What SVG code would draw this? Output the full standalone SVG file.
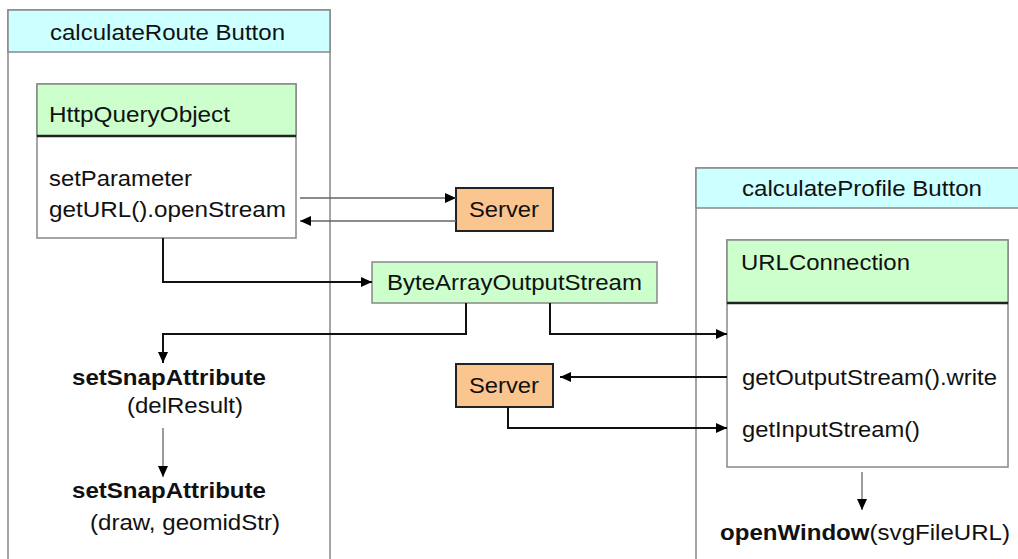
<svg xmlns="http://www.w3.org/2000/svg" width="1018" height="559" viewBox="0 0 1018 559">
<defs>
<marker id="ah" markerUnits="userSpaceOnUse" markerWidth="11" markerHeight="10" refX="11" refY="5" orient="auto">
<path d="M0,0 L11,5 L0,10 z" fill="#000"/>
</marker>
<style>
text{font-family:"Liberation Sans",Arial,sans-serif;font-size:22px;fill:#111}
.b{font-weight:bold}
.cont{fill:#fff;stroke:#888;stroke-width:1.5}
.hdr{fill:#ccffff;stroke:#888;stroke-width:1.5}
.cls{fill:#fff;stroke:#888;stroke-width:1.5}
.green{fill:#ccffcc;stroke:#888;stroke-width:1.5}
.div{stroke:#222;stroke-width:2.5}
.srv{fill:#fbc590;stroke:#222;stroke-width:2}
.c{fill:none;stroke:#111;stroke-width:2}
.g{fill:none;stroke:#666;stroke-width:1.3}
</style>
</defs>
<rect width="1018" height="559" fill="#fff"/>

<g id="calculateRoute">
<rect class="cont" x="8" y="10" width="322" height="560"/>
<rect class="hdr" x="8" y="10" width="322" height="42"/>
<text x="50" y="40" textLength="235" lengthAdjust="spacingAndGlyphs">calculateRoute Button</text>
</g>

<g id="calculateProfile">
<rect class="cont" x="696" y="168" width="340" height="400"/>
<rect class="hdr" x="696" y="168" width="340" height="40"/>
<text x="742" y="196" textLength="240" lengthAdjust="spacingAndGlyphs">calculateProfile Button</text>
</g>

<g id="HttpQueryObject">
<rect class="cls" x="37" y="84" width="259" height="154"/>
<rect class="green" x="37" y="84" width="259" height="52"/>
<line class="div" x1="37" y1="136" x2="296" y2="136"/>
<text x="49" y="122" textLength="181" lengthAdjust="spacingAndGlyphs">HttpQueryObject</text>
<text x="49" y="186" textLength="143" lengthAdjust="spacingAndGlyphs">setParameter</text>
<text x="49" y="217" textLength="237" lengthAdjust="spacingAndGlyphs">getURL().openStream</text>
</g>

<g id="Server1">
<rect class="srv" x="456" y="188" width="97" height="43"/>
<text x="469" y="217" textLength="70" lengthAdjust="spacingAndGlyphs">Server</text>
</g>

<g id="ByteArrayOutputStream">
<rect class="green" x="372" y="262" width="285" height="41"/>
<text x="387" y="290" textLength="255" lengthAdjust="spacingAndGlyphs">ByteArrayOutputStream</text>
</g>

<g id="URLConnection">
<rect class="cls" x="727" y="240" width="281" height="227"/>
<rect class="green" x="727" y="240" width="281" height="63"/>
<line class="div" x1="727" y1="303" x2="1008" y2="303"/>
<text x="741" y="270" textLength="169" lengthAdjust="spacingAndGlyphs">URLConnection</text>
<text x="742" y="385" textLength="255" lengthAdjust="spacingAndGlyphs">getOutputStream().write</text>
<text x="742" y="437" textLength="178" lengthAdjust="spacingAndGlyphs">getInputStream()</text>
</g>

<g id="Server2">
<rect class="srv" x="456" y="364" width="97" height="43"/>
<text x="469" y="393" textLength="70" lengthAdjust="spacingAndGlyphs">Server</text>
</g>

<g id="setSnap1">
<text class="b" x="72" y="385" textLength="194" lengthAdjust="spacingAndGlyphs">setSnapAttribute</text>
<text x="127" y="413" textLength="116" lengthAdjust="spacingAndGlyphs">(delResult)</text>
</g>

<g id="setSnap2">
<text class="b" x="72" y="498" textLength="194" lengthAdjust="spacingAndGlyphs">setSnapAttribute</text>
<text x="90" y="530" textLength="190" lengthAdjust="spacingAndGlyphs">(draw, geomidStr)</text>
</g>

<g id="openWindow">
<text x="720" y="540" textLength="290" lengthAdjust="spacingAndGlyphs"><tspan class="b">openWindow</tspan>(svgFileURL)</text>
</g>

<g id="connectors">
<polyline class="g" points="300,198 456,198" marker-end="url(#ah)"/>
<polyline class="g" points="456,221 300,221" marker-end="url(#ah)"/>
<polyline class="c" points="163,238 163,282 372,282" marker-end="url(#ah)"/>
<polyline class="c" points="466,303 466,334 163,334 163,363" marker-end="url(#ah)"/>
<polyline class="c" points="550,303 550,334 727,334" marker-end="url(#ah)"/>
<polyline class="c" points="727,377 560,377" marker-end="url(#ah)"/>
<polyline class="c" points="508,407 508,428 727,428" marker-end="url(#ah)"/>
<polyline class="g" points="163,428 163,477" marker-end="url(#ah)"/>
<polyline class="g" points="862,472 862,510" marker-end="url(#ah)"/>
</g>
</svg>
